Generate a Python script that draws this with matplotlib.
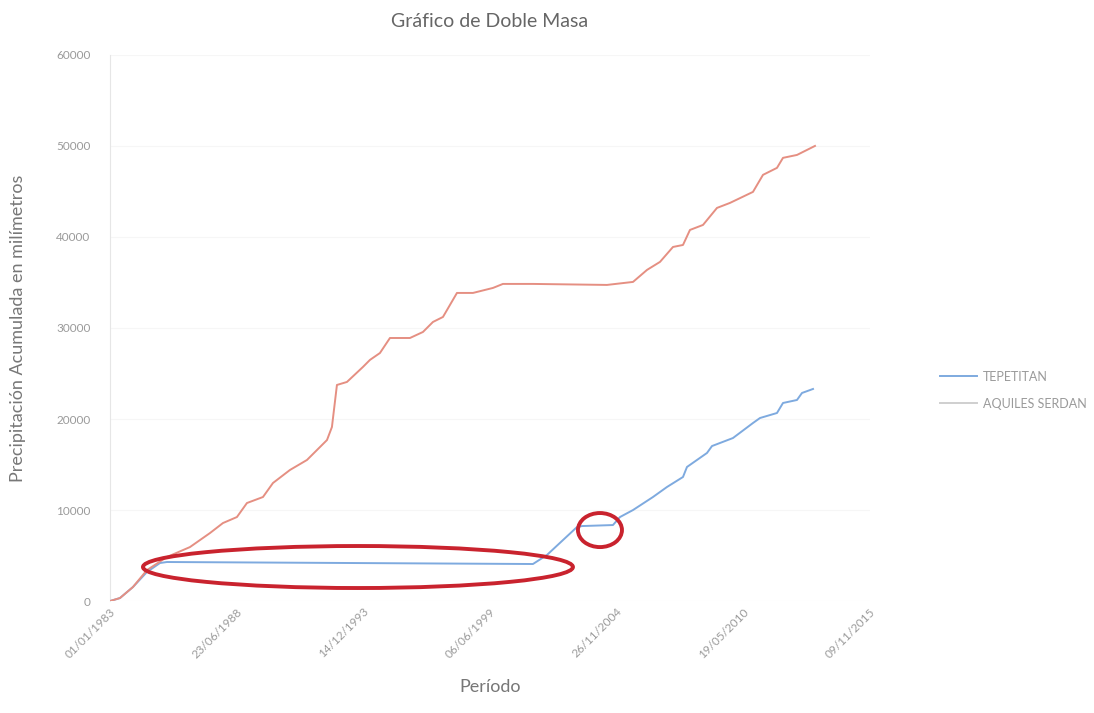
import numpy as np
import matplotlib
matplotlib.use("Agg")
import matplotlib.pyplot as plt
import matplotlib.dates as mdates
from matplotlib.patches import Ellipse

plt.rcParams['font.family'] = ['Lato', 'DejaVu Sans']

base = np.datetime64('1983-01-01')

# days since 01/01/1983, cumulative precipitation (mm)
aquiles_days = [0, 158, 363, 584, 900, 1263, 1579, 1784, 2005, 2163, 2416, 2574, 2842, 3111,
                3316, 3427, 3505, 3584, 3742, 3995, 4105, 4263, 4421, 4737, 4942, 5100, 5258,
                5479, 5732, 6048, 6205, 6679, 7848, 8259, 8480, 8685, 8890, 9048, 9158, 9364,
                9585, 9790, 10153, 10311, 10532, 10627, 10848, 11006, 11132]
aquiles_vals = [0, 330, 1540, 3400, 4840, 5930, 7470, 8570, 9230, 10770, 11430, 12970, 14400, 15500,
                16920, 17690, 19120, 23740, 24070, 25720, 26490, 27250, 28900, 28900, 29560, 30660, 31210,
                33850, 33850, 34400, 34840, 34840, 34730, 35060, 36380, 37260, 38900, 39120, 40770, 41320,
                43190, 43740, 44950, 46820, 47590, 48690, 49010, 49560, 50000]

tepe_days = [0, 158, 363, 584, 790, 900, 6679, 6900, 7153, 7374, 7453, 7942, 8053, 8259,
             8574, 8795, 9048, 9111, 9427, 9506, 9837, 10153, 10264, 10532, 10627, 10848, 10927, 11101]
tepe_vals = [0, 330, 1540, 3190, 4180, 4290, 4070, 5060, 6700, 8130, 8240, 8350, 9230, 10000,
             11430, 12530, 13630, 14730, 16270, 17030, 17910, 19560, 20110, 20660, 21760, 22090, 22860, 23300]

tick_step = 2000  # days between x ticks
n_ticks = 7

# annotation ellipses: (center day, center mm, width days, height mm)
big_ellipse = (3916, 3740, 6789, 4615)
small_ellipse = (7737, 7800, 695, 3740)

aq_x = base + np.array(aquiles_days).astype('timedelta64[D]')
tp_x = base + np.array(tepe_days).astype('timedelta64[D]')

fig = plt.figure(figsize=(10.94, 7.13), dpi=100)
ax = fig.add_axes([0.1005, 0.157, 0.6947, 0.766])

ax.plot(tp_x, tepe_vals, color='#7eaadf', lw=1.4, label='TEPETITAN', zorder=3)
ax.plot(aq_x, aquiles_vals, color='#e58f82', lw=1.4, label='AQUILES SERDAN', zorder=3)

for cx, cy, w, h in (big_ellipse, small_ellipse):
    c = mdates.date2num(base + np.timedelta64(cx, 'D'))
    ax.add_patch(Ellipse((c, cy), w, h, fill=False, edgecolor='#c9232e', lw=2.8, zorder=4))

ticks = base + (np.arange(n_ticks) * tick_step).astype('timedelta64[D]')
ax.set_xticks(ticks)
ax.xaxis.set_major_formatter(mdates.DateFormatter('%d/%m/%Y'))
ax.set_xlim(ticks[0], ticks[-1])
ax.set_ylim(0, 60000)
ax.set_yticks(np.arange(0, 60001, 10000))

for s in ['top', 'right', 'bottom']:
    ax.spines[s].set_visible(False)
ax.spines['left'].set_color('#e6e6e6')
ax.grid(axis='y', color='#f6f6f6', lw=0.8)
ax.tick_params(length=0, colors='#9a9a9a', labelsize=8.5)
ax.tick_params(axis='y', pad=14)
plt.setp(ax.get_xticklabels(), rotation=45, ha='right', rotation_mode='anchor')

ax.set_title('Gráfico de Doble Masa', color='#666666', fontsize=14, pad=20)
ax.set_ylabel('Precipitación Acumulada en milímetros', color='#777777', fontsize=13, labelpad=22)
ax.set_xlabel('Período', color='#777777', fontsize=13, labelpad=14)

leg = ax.legend(loc='center left', bbox_to_anchor=(1.085, 0.386), frameon=False,
                fontsize=9, labelcolor='#9a9a9a', handlelength=3.0, handletextpad=0.5,
                labelspacing=1.2, borderaxespad=0)
leg.get_lines()[1].set_color('#cfcfcf')

fig.savefig('out.png', dpi=100, facecolor='white')
